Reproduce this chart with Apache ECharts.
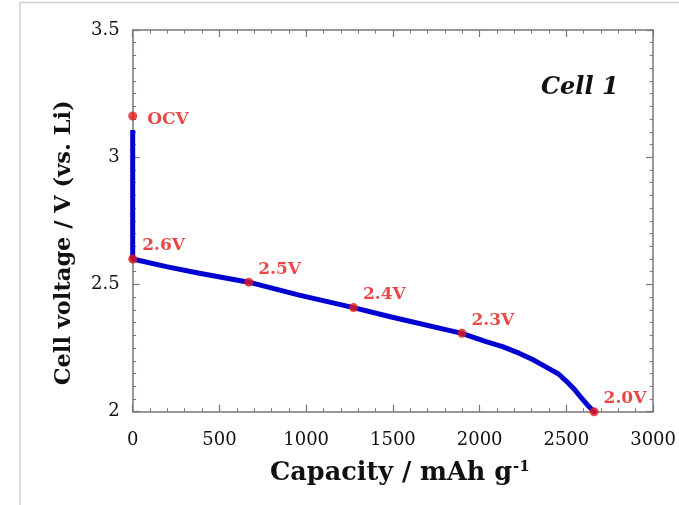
<!DOCTYPE html>
<html>
<head>
<meta charset="utf-8">
<script src="https://cdn.jsdelivr.net/npm/echarts@6/dist/echarts.min.js"></script>
<style>
html,body{margin:0;padding:0;background:#fff;}
#c{width:679px;height:505px;}
</style>
</head>
<body>
<div id="c"></div>
<script>
// Discharge curve (capacity in mAh/g, voltage in V)
const capacity = [0, 3, 194, 384, 669, 954, 1273, 1485, 1898, 2037, 2132, 2227, 2303, 2379, 2455, 2512, 2550, 2588, 2626, 2660];
const voltage  = [2.600, 2.594, 2.570, 2.544, 2.509, 2.459, 2.409, 2.373, 2.308, 2.275, 2.256, 2.230, 2.206, 2.177, 2.148, 2.112, 2.085, 2.053, 2.023, 2.000];
// Initial drop from OCV at zero capacity
const ocvCapacity = [0, 0];
const ocvVoltage  = [3.107, 2.600];
// Marked points
const markerLabels   = ['OCV', '2.6V', '2.5V', '2.4V', '2.3V', '2.0V'];
const markerCapacity = [0, 0, 669, 1273, 1898, 2660];
const markerVoltage  = [3.162, 2.600, 2.509, 2.409, 2.308, 2.000];
// Axis ticks
const xTicks = [0, 500, 1000, 1500, 2000, 2500, 3000];
const yTicks = [2, 2.5, 3, 3.5];

const FONT = 'DejaVu Serif';
const AXIS_COLOR = '#777';
const BLUE = '#0000d0';
const RED = '#e41a1c';

const curve = capacity.map((c, i) => [c, voltage[i]]);
const ocvLine = ocvCapacity.map((c, i) => [c, ocvVoltage[i]]);
const markers = markerCapacity.map((c, i) => ({
  value: [c, markerVoltage[i]],
  name: markerLabels[i],
  label: {
    show: true,
    formatter: markerLabels[i],
    position: 'right',
    distance: 5,
    offset: markerLabels[i] === 'OCV' ? [5, 4] : [0, -13]
  }
}));

function baseAxis(extra) {
  return Object.assign({
    z: 1,
    axisLine: { show: true, onZero: false, lineStyle: { color: AXIS_COLOR, width: 1.5 } },
    axisTick: { show: true, inside: true, length: 7, lineStyle: { color: AXIS_COLOR, width: 1.2 } },
    splitLine: { show: false },
    minorSplitLine: { show: false }
  }, extra);
}
const plainNum = v => String(v);

const chart = echarts.init(document.getElementById('c'), null, { renderer: 'canvas' });
chart.setOption({
  backgroundColor: '#fff',
  animation: false,
  grid: { left: 132.7, right: 20, top: 30, bottom: 93.3, containLabel: false },
  xAxis: [
    baseAxis({
      type: 'value', position: 'bottom', min: xTicks[0], max: xTicks[xTicks.length - 1], interval: 500,
      minorTick: { show: true, splitNumber: 5, length: 3.5, lineStyle: { color: AXIS_COLOR, width: 1 } },
      axisLabel: { show: true, margin: 20, color: '#111', fontFamily: FONT, fontSize: 18, formatter: plainNum },
      name: 'Capacity / mAh g{sup|-1}',
      nameLocation: 'middle',
      nameGap: 48,
      nameTextStyle: {
        color: '#111', fontFamily: FONT, fontSize: 25.5, fontWeight: 'bold', padding: [0, 0, 0, 14],
        rich: { sup: { fontFamily: FONT, fontSize: 15, fontWeight: 'bold', color: '#111', verticalAlign: 'top', padding: [0, 0, 12, 1] } }
      }
    }),
    baseAxis({
      type: 'value', position: 'top', min: xTicks[0], max: xTicks[xTicks.length - 1], interval: 500,
      minorTick: { show: true, splitNumber: 5, length: 3.5, lineStyle: { color: AXIS_COLOR, width: 1 } },
      axisLabel: { show: false }
    })
  ],
  yAxis: [
    baseAxis({
      type: 'value', position: 'left', min: yTicks[0], max: yTicks[yTicks.length - 1], interval: 0.5,
      minorTick: { show: true, splitNumber: 10, length: 3.5, lineStyle: { color: AXIS_COLOR, width: 1 } },
      axisLabel: { show: true, margin: 13, color: '#111', fontFamily: FONT, fontSize: 18, formatter: plainNum },
      name: 'Cell voltage / V (vs. Li)',
      nameLocation: 'middle',
      nameGap: 57,
      nameTextStyle: { color: '#111', fontFamily: FONT, fontSize: 22.5, fontWeight: 'bold', padding: [0, 44, 0, 0] }
    }),
    baseAxis({
      type: 'value', position: 'right', min: yTicks[0], max: yTicks[yTicks.length - 1], interval: 0.5,
      minorTick: { show: true, splitNumber: 10, length: 3.5, lineStyle: { color: AXIS_COLOR, width: 1 } },
      axisLabel: { show: false }
    })
  ],
  series: [
    {
      type: 'line', data: ocvLine, showSymbol: false, clip: false, zlevel: 1, z: 10,
      lineStyle: { color: BLUE, width: 5 }
    },
    {
      type: 'line', data: curve, showSymbol: false, clip: false, zlevel: 1, z: 10,
      smooth: false,
      lineStyle: { color: BLUE, width: 5, join: 'round', cap: 'round' }
    },
    {
      type: 'scatter', data: markers, symbol: 'circle', symbolSize: 9, clip: false, zlevel: 1, z: 12,
      itemStyle: { color: RED },
      label: { color: RED, fontFamily: FONT, fontWeight: 'bold', fontSize: 17 }
    }
  ],
  graphic: [
    {
      type: 'rect', silent: true, z: -1,
      shape: { x: 20, y: 2.5, width: 700, height: 560 },
      style: { fill: null, stroke: '#d0d0d0', lineWidth: 1.5 }
    },
    {
      type: 'text', left: 541, top: 76,
      style: { text: 'Cell 1', fill: '#111', font: 'italic bold 24px "DejaVu Serif"' }
    }
  ]
});
</script>
</body>
</html>
